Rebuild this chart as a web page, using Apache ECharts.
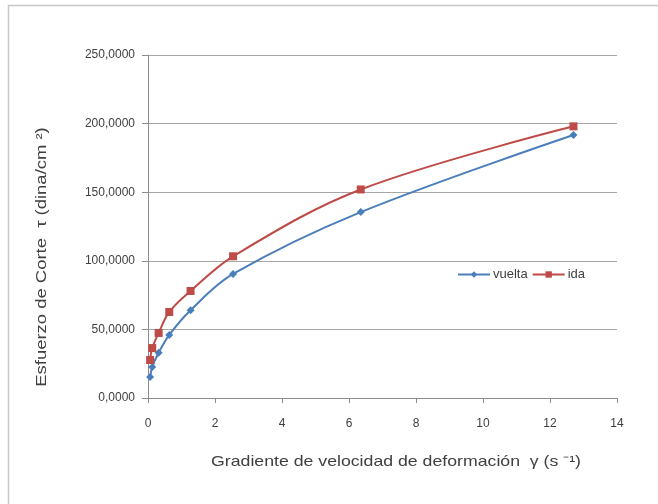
<!DOCTYPE html>
<html>
<head>
<meta charset="utf-8">
<script src="https://cdn.jsdelivr.net/npm/echarts@6/dist/echarts.min.js"></script>
<style>
html,body{margin:0;padding:0;background:#fff;}
#chart{width:658px;height:504px;}
</style>
</head>
<body>
<div id="chart"></div>
<script>
var shearRates = [0.0635, 0.127, 0.3175, 0.635, 1.27, 2.54, 6.35, 12.7];
var vueltaValues = [15.3, 22.6, 33.0, 46.0, 64.0, 90.4, 135.5, 191.7];
var idaValues = [27.7, 36.4, 47.4, 62.7, 78.0, 103.3, 152.0, 198.0];
var seriesNames = ['vuelta', 'ida'];
var xTitle = 'Gradiente de velocidad de deformación  γ (s \u207B\u00B9)';
var yTitle = 'Esfuerzo de Corte  τ (dina/cm \u00B2)';

function pairs(xs, ys) { return xs.map(function (x, i) { return [x, ys[i]]; }); }

var chart = echarts.init(document.getElementById('chart'));
var font = 'Liberation Sans, Arial, sans-serif';
chart.setOption({
  animation: false,
  backgroundColor: '#fff',
  textStyle: { fontFamily: font },
  grid: { left: 148, right: 41, top: 55, bottom: 106 },
  legend: {
    left: 452, top: 263,
    itemWidth: 32, itemHeight: 8, itemGap: 4,
    textStyle: { fontSize: 13, color: '#404040', fontFamily: font, padding: [0, 0, 0, -2] },
    data: seriesNames
  },
  xAxis: {
    type: 'value', min: 0, max: 14, interval: 2,
    axisLine: { lineStyle: { color: '#8c8c8c', width: 1 } },
    axisTick: { show: true, length: 5, lineStyle: { color: '#8c8c8c' } },
    axisLabel: { fontSize: 12, color: '#404040', margin: 20 },
    splitLine: { show: false }
  },
  yAxis: {
    type: 'value', min: 0, max: 250, interval: 50,
    axisLine: { show: true, lineStyle: { color: '#8c8c8c', width: 1 } },
    axisTick: { show: true, length: 6, lineStyle: { color: '#8c8c8c' } },
    axisLabel: { fontSize: 12, color: '#404040', margin: 13,
      formatter: function (v) { return v.toFixed(4).replace('.', ','); } },
    splitLine: { show: true, lineStyle: { color: '#a6a6a6', width: 1 } }
  },
  graphic: [
    { type: 'rect', shape: { x: 8.5, y: 5.5, width: 700, height: 600 },
      style: { fill: 'none', stroke: '#c8c8c8', lineWidth: 1.5 }, z: -10 },
    { type: 'text', x: 396, y: 462, scaleX: 1.18,
      style: { text: xTitle, font: '15px ' + font, fill: '#404040', align: 'center', verticalAlign: 'middle' } },
    { type: 'text', x: 42, y: 257, rotation: Math.PI / 2, scaleX: 1.23,
      style: { text: yTitle, font: '15px ' + font, fill: '#404040', align: 'center', verticalAlign: 'middle' } }
  ],
  series: [
    { name: seriesNames[0], type: 'line', smooth: 0.35,
      data: pairs(shearRates, vueltaValues),
      symbol: 'diamond', symbolSize: 8,
      lineStyle: { color: '#4A7EBB', width: 2 },
      itemStyle: { color: '#4A7EBB' } },
    { name: seriesNames[1], type: 'line', smooth: 0.35,
      data: pairs(shearRates, idaValues),
      symbol: 'rect', symbolSize: 8,
      lineStyle: { color: '#BE4B48', width: 2 },
      itemStyle: { color: '#BE4B48' } }
  ]
});
</script>
</body>
</html>
